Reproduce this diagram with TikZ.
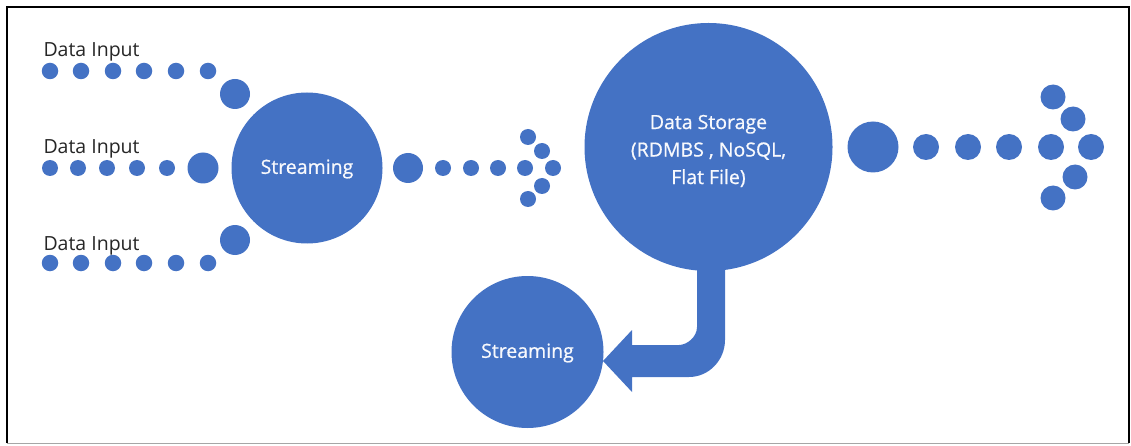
\documentclass[tikz,border=0pt]{standalone}
\usepackage{fontspec}
\setmainfont{Open Sans}
\newfontfamily\hubfont[FakeBold=0.7]{Open Sans}
\definecolor{flow}{RGB}{68,114,196}
\tikzset{
  dot/.style={circle, fill=flow, inner sep=0pt, minimum size=#1},
  hub/.style={circle, fill=flow, inner sep=0pt, minimum size=#1},
  hubtext/.style={text=white!96!flow, font=\hubfont\fontsize{19.5}{27.5}\selectfont, align=center},
  label/.style={anchor=base west, font=\fontsize{19.5}{22}\selectfont, text=black!85},
}
\begin{document}
\begin{tikzpicture}[x=1pt, y=-1pt]
\useasboundingbox (0,0) rectangle (1131,446);
% frame
\draw[line width=2.6pt] (7,443) -- (7,7) -- (1129,7) -- (1129,443);
\draw[line width=0.8pt, black!35] (7,443) -- (1129,443);

% input rows
\node[label] (in1) at (40,57) {Data Input};
\node[label] (in2) at (40,154) {Data Input};
\node[label] (in3) at (40,250) {Data Input};
\foreach \x [count=\i] in {50,81,113,144,176,208} {
  \node[dot=16.5] (a\i) at (\x,71) {};
  \node[dot=16.5] (c\i) at (\x,263) {};
}
\foreach \x [count=\i] in {50,78,107,137,167} {
  \node[dot=16] (b\i) at (\x,168) {};
}
\node[dot=30] (a7) at (235,94) {};
\node[dot=31] (b6) at (203,168) {};
\node[dot=30] (c7) at (235,240) {};

% first streaming stage
\node[hub=151] (s1) at (307,168) {};
\node[hubtext] (s1t) at ([yshift=-1pt]s1.center) {Streaming};

% dotted arrow towards storage
\node[dot=30] (m0) at (408,168) {};
\foreach \x [count=\i] in {443,471,498,525} {
  \node[dot=16] (m\i) at (\x,168) {};
}
\node[dot=16] (mt) at (553,168) {};
\node[dot=16] (mu1) at (542,151) {};
\node[dot=16] (mu2) at (528,137) {};
\node[dot=16] (md1) at (542,186) {};
\node[dot=16] (md2) at (528,199) {};

% bent arrow from storage down into the second streaming stage
\fill[flow] (697,250) -- (697,327)
  .. controls (697,337) and (687,345) .. (679,345)
  -- (632,345) -- (632,330) -- (603,361) -- (632,392) -- (632,377)
  -- (689,377) .. controls (709,377) and (725,360) .. (725,340)
  -- (725,250) -- cycle;

% storage
\node[hub=248] (store) at (708.5,147) {};
\node[hubtext] (storet) at ([yshift=-4pt]store.center) {Data Storage\\(RDMBS , NoSQL,\\Flat File)};

% output dotted arrow
\node[dot=51] (o0) at (873,147) {};
\foreach \x [count=\i] in {926,968,1009,1051,1091} {
  \node[dot=26] (o\i) at (\x,147) {};
}
\node[dot=25] (ou1) at (1073,119) {};
\node[dot=25] (ou2) at (1053,97) {};
\node[dot=25] (od1) at (1075,177) {};
\node[dot=25] (od2) at (1053,198) {};

% second streaming stage
\node[hub=152] (s2) at (527.5,352) {};
\node[hubtext] (s2t) at ([yshift=-1pt]s2.center) {Streaming};
\end{tikzpicture}
\end{document}
